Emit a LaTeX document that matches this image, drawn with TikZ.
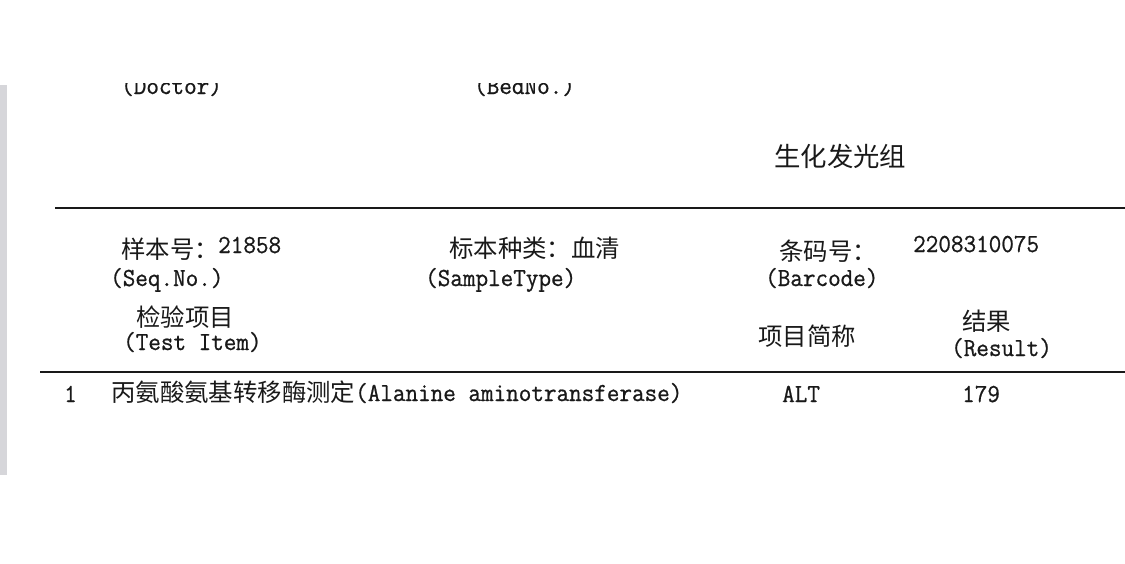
\documentclass[tikz,border=0pt]{standalone}
\usepackage{fontspec}
\newfontfamily\cjk{Noto Sans CJK SC}
\newfontfamily\enfont[FakeStretch=0.94,FakeBold=0.8]{Latin Modern Mono}
\newcommand{\zh}[1]{{\cjk\fontsize{24.4}{28}\selectfont #1}}
\newcommand{\en}[1]{{\enfont\fontsize{26}{30}\selectfont #1}}
\definecolor{scanbar}{RGB}{214,214,218}
\definecolor{ink}{RGB}{25,25,25}
\tikzset{
  txt/.style={inner sep=0pt, anchor=base west, text=ink},
  rule/.style={line width=2.6pt, ink},
}
\begin{document}
\begin{tikzpicture}[x=1pt,y=-1pt]
  \useasboundingbox (0,0) rectangle (1125,563);
  \fill[scanbar] (0,85) rectangle (7,475);
  % cut-off line of the page above
  \begin{scope}
    \clip (0,83) rectangle (1125,100);
    \node[txt] (doctor) at (121,94) {\en{(Doctor)}};
    \node[txt] (bedno) at (474,94) {\en{(BedNo.)}};
  \end{scope}
  \node[txt] (group) at (774,166) {{\cjk\fontsize{26.4}{30}\selectfont 生化发光组}};
  \coordinate (rule1l) at (55,208);
  \coordinate (rule1r) at (1125,208);
  \draw[rule] (rule1l) -- (rule1r);
  % sample header
  \node[txt] (seq) at (121,258) {\zh{样本号：}};
  \node[txt] (seqval) at (218,253) {\en{21858}};
  \node[txt] (seqen) at (110,286) {\en{(Seq.No.)}};
  \node[txt] (type) at (449,257) {\zh{标本种类：血清}};
  \node[txt] (typeen) at (425,286) {\en{(SampleType)}};
  \node[txt] (bar) at (779,260) {\zh{条码号：}};
  \node[txt] (barval) at (913,252) {\en{2208310075}};
  \node[txt] (baren) at (765,286) {\en{(Barcode)}};
  % column heads
  \node[txt] (item) at (136,326) {\zh{检验项目}};
  \node[txt] (itemen) at (123,350) {\en{(Test Item)}};
  \node[txt] (abbr) at (758,345) {\zh{项目简称}};
  \node[txt] (res) at (962,330) {\zh{结果}};
  \node[txt] (resen) at (951,356) {\en{(Result)}};
  \coordinate (rule2l) at (40,372);
  \coordinate (rule2r) at (1125,372);
  \draw[rule] (rule2l) -- (rule2r);
  % result row
  \node[txt] (no) at (64,402) {\en{1}};
  \node[txt] (name) at (111,401) {\zh{丙氨酸氨基转移酶测定}\en{(Alanine aminotransferase)}};
  \node[txt] (alt) at (782,402) {\en{ALT}};
  \node[txt] (val) at (962,402) {\en{179}};
\end{tikzpicture}
\end{document}
